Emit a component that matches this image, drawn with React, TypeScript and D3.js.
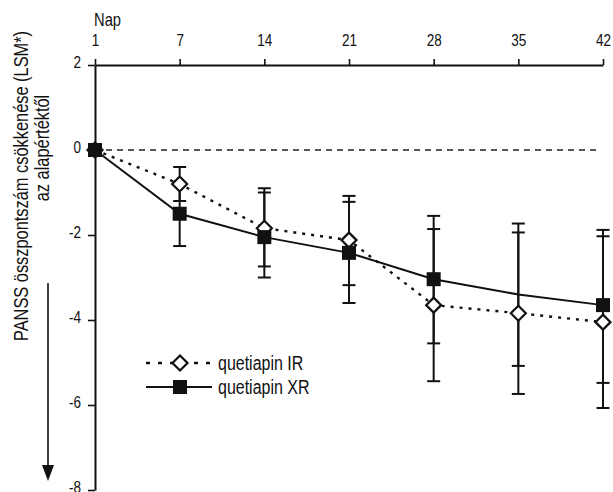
import * as d3 from "d3";
import React, { useEffect, useRef } from "react";

// days of measurement (x axis, evenly spaced)
const days = ["1", "7", "14", "21", "28", "35", "42"];
const yTicks = [2, 0, -2, -4, -6, -8];

// quetiapin IR (open diamonds, dotted)
const irMean = [0, -0.8, -1.84, -2.12, -3.65, -3.84, -4.05];
const irUpper = [0, -0.4, -0.9, -1.08, -1.86, -1.94, -2.03];
const irLower = [0, -1.2, -2.74, -3.18, -5.44, -5.74, -6.07];

// quetiapin XR (filled squares, solid)
const xrMean = [0, -1.5, -2.05, -2.42, -3.04, -3.4, -3.65];
const xrUpper = [0, -0.75, -1.0, -1.22, -1.55, -1.73, -1.88];
const xrLower = [0, -2.26, -3.0, -3.6, -4.55, -5.08, -5.48];
const xrMarker = [true, true, true, true, true, false, true];

const seriesNames = ["quetiapin IR", "quetiapin XR"];

const FONT = "'Liberation Sans', Arial, Helvetica, sans-serif";
const SX = 0.82; // narrow the glyphs like a condensed Helvetica

export default function App() {
  const svgRef = useRef<SVGSVGElement>(null);

  useEffect(() => {
    const W = 613;
    const H = 492;
    const svg = d3.select(svgRef.current).attr("width", W).attr("height", H);
    svg.selectAll("*").remove();

    const x = d3.scalePoint<string>().domain(days).range([95, 603]);
    const y = d3.scaleLinear().domain([-8, 2]).range([490, 65]);

    // axes
    const xAxis = svg
      .append("g")
      .attr("transform", `translate(0,${y(2)})`)
      .call(d3.axisTop(x).tickSize(6).tickPadding(13).tickSizeOuter(0));
    xAxis.select(".domain").attr("stroke", "#111").attr("stroke-width", 2);
    xAxis.selectAll(".tick line").attr("stroke", "#111").attr("stroke-width", 1.6);
    xAxis
      .selectAll(".tick text")
      .attr("font-family", FONT)
      .attr("font-size", 16.5)
      .attr("fill", "#111")
      .attr("transform", `scale(${SX},1)`)
      .attr("y", -19);

    const yAxis = svg
      .append("g")
      .attr("transform", `translate(${x("1")},0)`)
      .call(
        d3
          .axisLeft(y)
          .tickValues(yTicks)
          .tickFormat((d) => String(d))
          .tickSize(7)
          .tickPadding(7)
          .tickSizeOuter(0)
      );
    yAxis.select(".domain").attr("stroke", "#111").attr("stroke-width", 2);
    yAxis.selectAll(".tick line").attr("stroke", "#111").attr("stroke-width", 1.6);
    yAxis
      .selectAll(".tick text")
      .attr("font-family", FONT)
      .attr("font-size", 16.5)
      .attr("fill", "#111")
      .attr("x", -14 / SX)
      .attr("transform", `scale(${SX},1)`)
      .attr("dy", "0.15em");

    svg
      .append("text")
      .attr("transform", `translate(94,26) scale(${SX},1)`)
      .attr("font-family", FONT)
      .attr("font-size", 18)
      .attr("fill", "#111")
      .text("Nap");

    // y label
    const lab = svg
      .append("g")
      .attr("font-family", FONT)
      .attr("font-size", 20)
      .attr("fill", "#111")
      .attr("text-anchor", "middle");
    lab
      .append("text")
      .attr("transform", `translate(28,186) rotate(-90) scale(${SX},1)`)
      .text("PANSS összpontszám csökkenése (LSM*)");
    lab
      .append("text")
      .attr("transform", `translate(49,148) rotate(-90) scale(${SX},1)`)
      .text("az alapértéktől");

    // arrow
    svg
      .append("line")
      .attr("x1", 48)
      .attr("x2", 48)
      .attr("y1", 283)
      .attr("y2", 468)
      .attr("stroke", "#111")
      .attr("stroke-width", 1.6);
    svg
      .append("path")
      .attr("d", d3.line()([[42, 465], [54, 465], [48, 481]]) + "Z")
      .attr("fill", "#111");

    // zero reference line
    svg
      .append("line")
      .attr("x1", x("1")!)
      .attr("x2", 600)
      .attr("y1", y(0))
      .attr("y2", y(0))
      .attr("stroke", "#222")
      .attr("stroke-width", 1.6)
      .attr("stroke-dasharray", "6,5");

    // error bars
    const cap = 6.5;
    const drawBars = (upper: number[], lower: number[]) => {
      const g = svg.append("g").attr("stroke", "#111").attr("stroke-width", 2);
      days.forEach((d, i) => {
        if (upper[i] === lower[i]) return;
        const cx = x(d)!;
        g.append("line").attr("x1", cx).attr("x2", cx).attr("y1", y(upper[i])).attr("y2", y(lower[i]));
        [upper[i], lower[i]].forEach((v) => {
          g.append("line").attr("x1", cx - cap).attr("x2", cx + cap).attr("y1", y(v)).attr("y2", y(v));
        });
      });
    };
    drawBars(irUpper, irLower);
    drawBars(xrUpper, xrLower);

    const line = d3
      .line<number>()
      .x((_, i) => x(days[i])!)
      .y((v) => y(v));

    svg
      .append("path")
      .attr("d", line(irMean))
      .attr("fill", "none")
      .attr("stroke", "#111")
      .attr("stroke-width", 2.4)
      .attr("stroke-dasharray", "3,6");
    svg
      .append("path")
      .attr("d", line(xrMean))
      .attr("fill", "none")
      .attr("stroke", "#111")
      .attr("stroke-width", 2);

    const diamond = (g: any, cx: number, cy: number) =>
      g
        .append("path")
        .attr("d", `M${cx},${cy - 7.5}L${cx + 7.5},${cy}L${cx},${cy + 7.5}L${cx - 7.5},${cy}Z`)
        .attr("fill", "#fff")
        .attr("stroke", "#111")
        .attr("stroke-width", 2.2);
    const square = (g: any, cx: number, cy: number) =>
      g
        .append("rect")
        .attr("x", cx - 7)
        .attr("y", cy - 7)
        .attr("width", 14)
        .attr("height", 14)
        .attr("fill", "#111");

    const marks = svg.append("g");
    irMean.forEach((v, i) => diamond(marks, x(days[i])!, y(v)));
    xrMean.forEach((v, i) => {
      if (xrMarker[i]) square(marks, x(days[i])!, y(v));
    });

    // legend
    const leg = svg.append("g");
    const rows = [363, 387];
    rows.forEach((ry, i) => {
      leg
        .append("line")
        .attr("x1", 146)
        .attr("x2", 212)
        .attr("y1", ry)
        .attr("y2", ry)
        .attr("stroke", "#111")
        .attr("stroke-width", i === 0 ? 2.4 : 2)
        .attr("stroke-dasharray", i === 0 ? "4,8" : null);
      if (i === 0) diamond(leg, 180, ry);
      else square(leg, 180, ry);
      leg
        .append("text")
        .attr("transform", `translate(218,${ry + 7}) scale(${SX},1)`)
        .attr("font-family", FONT)
        .attr("font-size", 19.5)
        .attr("fill", "#111")
        .text(seriesNames[i]);
    });
  }, []);

  return (
    <div style={{ position: "absolute", left: 0, top: 0, background: "#fff" }}>
      <svg ref={svgRef}></svg>
    </div>
  );
}
